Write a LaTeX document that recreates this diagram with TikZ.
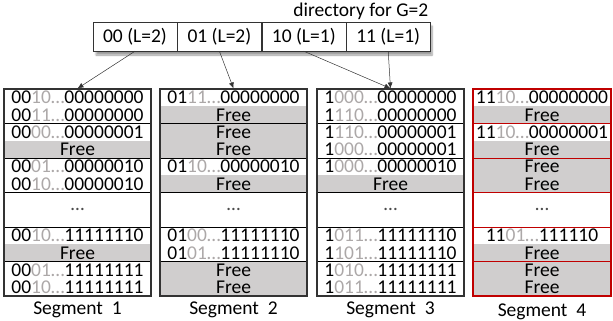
\documentclass[tikz,border=0pt]{standalone}
\usepackage{fontspec}
\setmainfont{Carlito}
\usetikzlibrary{arrows.meta,positioning,shadows.blur}
\definecolor{freegray}{RGB}{208,206,206}
\definecolor{hashgray}{RGB}{172,168,168}
\definecolor{segred}{RGB}{192,0,0}
\newcommand{\hk}[3]{#1\textcolor{hashgray}{#2…}#3}

\begin{document}
\begin{tikzpicture}[x=1pt,y=-1pt,
  every node/.style={font=\fontsize{19.5}{21}\selectfont, inner sep=0pt},
  dircell/.style={draw=black!80, fill=white, minimum width=84pt, minimum height=29pt},
  freerow/.style={fill=freegray},
  segbox/.style={draw=black!80, line width=1.1pt, minimum width=147pt, minimum height=207pt},
  bline/.style={line width=0.8pt},
  arr/.style={-{Latex[length=6pt,width=5pt]}, black!80, line width=0.5pt}]
\useasboundingbox (0,0) rectangle (613,321);

% Segment 1
\foreach \i in {3,9} {
  \fill[freerow] (4,{89+17.25*\i}) rectangle (151,{89+17.25*(\i+1)});
  \node (s1f\i) at (77.5,{89+17.25*(\i+.5)}) {Free};
}
\foreach \i/\txt in {0/\hk{00}{10}{00000000}, 1/\hk{00}{11}{00000000}, 2/\hk{00}{00}{00000001},
    4/\hk{00}{01}{00000010}, 5/\hk{00}{10}{00000010}, 8/\hk{00}{10}{11111110},
    10/\hk{00}{01}{11111111}, 11/\hk{00}{10}{11111111}}
  \node (s1r\i) at (77.5,{89+17.25*(\i+.5)}) {\txt};
\node (s1dots) at (77.5,{89+17.25*7}) {\textcolor{black!70}{…}};
\foreach \k in {1,...,5} \draw[bline] (4,{89+34.5*\k}) -- (151,{89+34.5*\k});
\node[segbox] (seg1) at (77.5,192.5) {};
\node (lab1) at (77.5,310) {Segment~~1};

% Segment 2
\foreach \i in {1,2,3,5,10,11} {
  \fill[freerow] (160,{89+17.25*\i}) rectangle (307,{89+17.25*(\i+1)});
  \node (s2f\i) at (233.5,{89+17.25*(\i+.5)}) {Free};
}
\foreach \i/\txt in {0/\hk{01}{11}{00000000}, 4/\hk{01}{10}{00000010},
    8/\hk{01}{00}{11111110}, 9/\hk{01}{01}{11111110}}
  \node (s2r\i) at (233.5,{89+17.25*(\i+.5)}) {\txt};
\node (s2dots) at (233.5,{89+17.25*7}) {\textcolor{black!70}{…}};
\foreach \k in {1,...,5} \draw[bline] (160,{89+34.5*\k}) -- (307,{89+34.5*\k});
\node[segbox] (seg2) at (233.5,192.5) {};
\node (lab2) at (233.5,310) {Segment~~2};

% Segment 3
\fill[freerow] (317,{89+17.25*5}) rectangle (464,{89+17.25*6});
\node (s3f5) at (390.5,{89+17.25*5.5}) {Free};
\foreach \i/\txt in {0/\hk{1}{000}{00000000}, 1/\hk{1}{110}{00000000}, 2/\hk{1}{110}{00000001},
    3/\hk{1}{000}{00000001}, 4/\hk{1}{000}{00000010}, 8/\hk{1}{011}{11111110},
    9/\hk{1}{101}{11111110}, 10/\hk{1}{010}{11111111}, 11/\hk{1}{011}{11111111}}
  \node (s3r\i) at (390.5,{89+17.25*(\i+.5)}) {\txt};
\node (s3dots) at (390.5,{89+17.25*7}) {\textcolor{black!70}{…}};
\foreach \k in {1,...,5} \draw[bline] (317,{89+34.5*\k}) -- (464,{89+34.5*\k});
\node[segbox] (seg3) at (390.5,192.5) {};
\node (lab3) at (390.5,310) {Segment~~3};

% Segment 4 (new one, red)
\foreach \i in {1,3,4,5,9,10,11} {
  \fill[freerow] (473,{89+17.25*\i}) rectangle (611,{89+17.25*(\i+1)});
  \node (s4f\i) at (542,{89+17.25*(\i+.5)}) {Free};
}
\foreach \i/\txt in {0/\hk{11}{10}{00000000}, 2/\hk{11}{10}{00000001}, 8/\hk{11}{01}{111110}}
  \node (s4r\i) at (542,{89+17.25*(\i+.5)}) {\txt};
\node (s4dots) at (542,{89+17.25*7}) {\textcolor{black!70}{…}};
\foreach \k in {1,...,5} \draw[bline, segred] (473,{89+34.5*\k}) -- (611,{89+34.5*\k});
\node[segbox, draw=segred, minimum width=138pt] (seg4) at (542,192.5) {};
\node (lab4) at (542,312) {Segment~~4};

% Directory
\node[fill=white, blur shadow={shadow xshift=3pt, shadow yshift=-4pt, shadow blur steps=6},
  minimum width=336pt, minimum height=29pt] (dirbox) at (261,36.5) {};
\node[dircell] (d00) at (135,36.5) {00 (L=2)};
\node[dircell, right=0pt of d00] (d01) {01 (L=2)};
\node[dircell, right=0pt of d01] (d10) {10 (L=1)};
\node[dircell, right=0pt of d10] (d11) {11 (L=1)};
\node[anchor=south east, inner sep=2pt] (dirlab) at (d11.north east) {directory for G=2};

% Pointers
\draw[arr] (d00.south) -- (seg1.north);
\draw[arr] (d01.south) -- (seg2.north);
\draw[arr] (d10.south) -- (seg3.north);
\draw[arr] (d11.south) -- (seg3.north);
\end{tikzpicture}
\end{document}
